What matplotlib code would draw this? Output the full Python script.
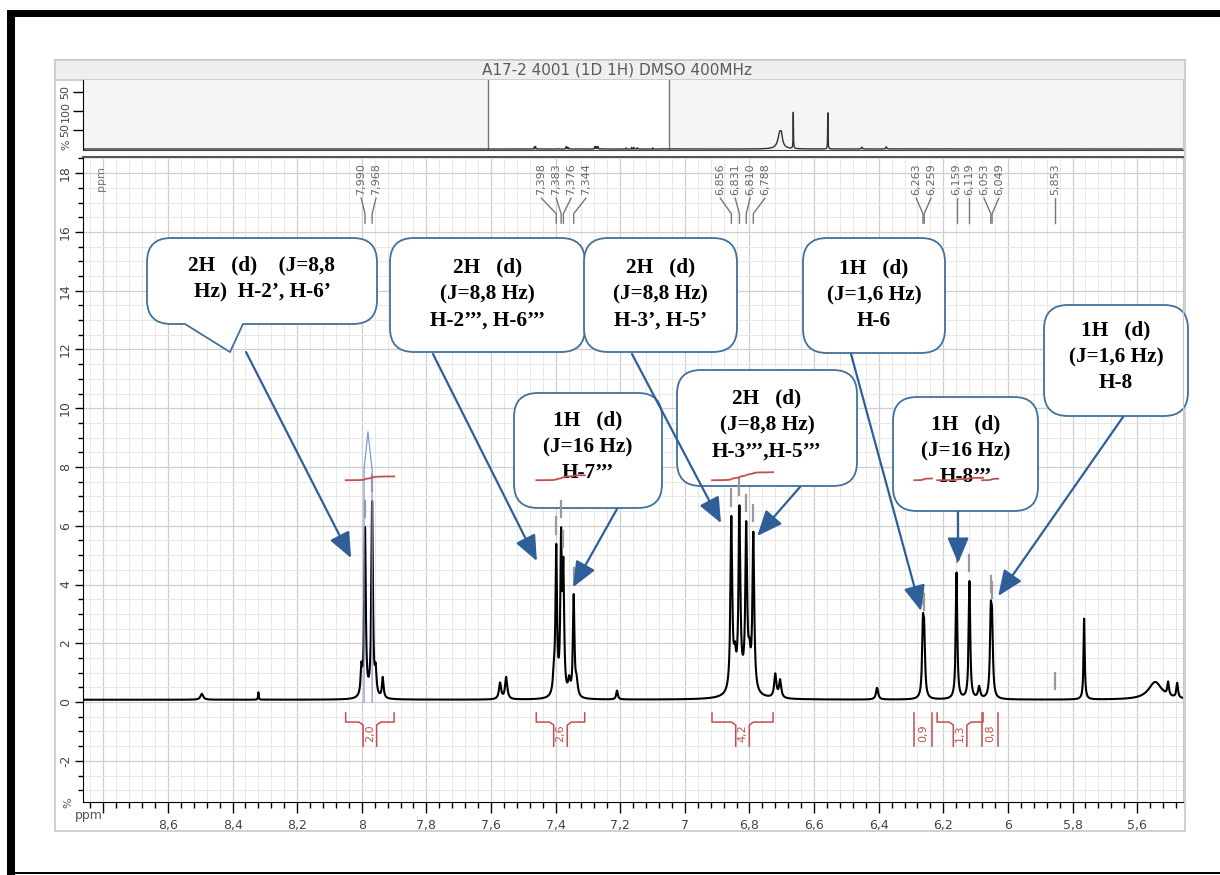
import numpy as np
import matplotlib
matplotlib.use('Agg')
import matplotlib.pyplot as plt
import matplotlib.transforms as mtransforms
from matplotlib.patches import Rectangle, PathPatch
from matplotlib.path import Path
from matplotlib.ticker import MultipleLocator, FuncFormatter

# 1H peaks: position (ppm), height (%), half width (ppm)
peak_ppm = [8.495, 8.320, 8.001, 7.990, 7.968, 7.957, 7.935, 7.572, 7.553,
            7.405, 7.398, 7.383, 7.376, 7.358, 7.344, 7.335, 7.210,
            6.856, 6.845, 6.831, 6.822, 6.810, 6.800, 6.788, 6.720, 6.705, 6.405,
            6.263, 6.259, 6.159, 6.119, 6.089, 6.053, 6.049, 5.764, 5.544, 5.504, 5.476]
peak_height = [0.20, 0.25, 0.90, 5.70, 6.60, 0.80, 0.70, 0.55, 0.75,
               0.60, 4.90, 5.10, 4.00, 0.50, 3.40, 0.50, 0.30,
               5.85, 0.90, 5.95, 0.35, 5.35, 0.90, 5.30, 0.80, 0.60, 0.40,
               2.20, 1.90, 4.30, 4.00, 0.40, 2.50, 2.20, 2.75, 0.60, 0.45, 0.50]
peak_width = [0.005, 0.0012, 0.003, 0.0028, 0.0028, 0.003, 0.003, 0.004, 0.004,
              0.004, 0.0028, 0.0028, 0.0028, 0.004, 0.0028, 0.004, 0.003,
              0.0033, 0.004, 0.0033, 0.03, 0.0033, 0.004, 0.0033, 0.004, 0.004, 0.004,
              0.003, 0.003, 0.0028, 0.0028, 0.004, 0.003, 0.003, 0.0022, 0.025, 0.003, 0.003]
baseline = 0.08

# solvent / other peaks only seen in the overview strip
solvent_ppm = [3.37, 3.34, 3.12, 2.47, 1.83, 1.37]
solvent_height = [45.0, 15.0, 95.0, 95.0, 5.0, 6.0]
solvent_width = [0.045, 0.015, 0.004, 0.004, 0.01, 0.01]

# picked peaks (top labels) and their groups
label_ppm = [7.990, 7.968, 7.398, 7.383, 7.376, 7.344, 6.856, 6.831, 6.810, 6.788,
             6.263, 6.259, 6.159, 6.119, 6.053, 6.049, 5.853]
label_group = [0, 0, 1, 1, 1, 1, 2, 2, 2, 2, 3, 3, 4, 5, 6, 6, 7]

# integrals: left ppm, right ppm, value
integ_left = [8.05, 7.46, 6.916, 6.29, 6.219, 6.08]
integ_right = [7.90, 7.31, 6.727, 6.235, 6.077, 6.03]
integ_value = ['2,0', '2,6', '4,2', '0,9', '1,3', '0,8']

# multiplet envelope drawn over the 7.98 doublet
env_ppm = [7.993, 7.993, 7.981, 7.968, 7.968]
env_val = [0.0, 7.9, 9.2, 7.9, 0.0]

# callouts: text, arrow target (ppm, %)
callout_text = ['2H   (d)    (J=8,8\nHz)  H-2\u2019, H-6\u2019',
                '2H   (d)\n(J=8,8 Hz)\nH-2\u2019\u2019\u2019, H-6\u2019\u2019\u2019',
                '2H   (d)\n(J=8,8 Hz)\nH-3\u2019, H-5\u2019',
                '1H   (d)\n(J=1,6 Hz)\nH-6',
                '1H   (d)\n(J=1,6 Hz)\nH-8',
                '1H   (d)\n(J=16 Hz)\nH-7\u2019\u2019\u2019',
                '2H   (d)\n(J=8,8 Hz)\nH-3\u2019\u2019\u2019,H-5\u2019\u2019\u2019',
                '1H   (d)\n(J=16 Hz)\nH-8\u2019\u2019\u2019']
target_ppm = [8.033, 7.458, 6.888, 6.269, 6.030, 7.346, 6.776, 6.154]
target_val = [4.90, 4.80, 6.09, 3.10, 3.61, 3.91, 5.65, 4.73]

title = 'A17-2 4001 (1D 1H) DMSO 400MHz'


def lorentz(x, pos, hgt, wid):
    y = np.zeros_like(x)
    for p, h, w in zip(pos, hgt, wid):
        y += h / (1 + ((x - p) / w) ** 2)
    return y


def bubble(x0, y0, x1, y1, r, tail=None):
    v = [(x0 + r, y0), (x1 - r, y0), (x1, y0), (x1, y0 + r), (x1, y1 - r), (x1, y1), (x1 - r, y1)]
    c = [Path.MOVETO, Path.LINETO, Path.CURVE3, Path.CURVE3, Path.LINETO, Path.CURVE3, Path.CURVE3]
    if tail:
        v += [(tail[2], y1), (tail[1][0], tail[1][1]), (tail[0], y1)]
        c += [Path.LINETO] * 3
    v += [(x0 + r, y1), (x0, y1), (x0, y1 - r), (x0, y0 + r), (x0, y0), (x0 + r, y0), (x0 + r, y0)]
    c += [Path.LINETO, Path.CURVE3, Path.CURVE3, Path.LINETO, Path.CURVE3, Path.CURVE3, Path.CLOSEPOLY]
    return Path(v, c)


W, H = 1220, 875
fig = plt.figure(figsize=(W / 100, H / 100), dpi=100)
pix = mtransforms.Affine2D().scale(1 / W, -1 / H).translate(0, 1) + fig.transFigure


def fbox(x0, y0, x1, y1):
    return [x0 / W, 1 - y1 / H, (x1 - x0) / W, (y1 - y0) / H]


# background: black frame, grey panel, title bar
bg = fig.add_axes([0, 0, 1, 1], zorder=-5)
bg.set_xlim(0, W)
bg.set_ylim(H, 0)
bg.axis('off')
bg.add_patch(Rectangle((55, 60), 1130, 771, fc='white', ec='#c8c8c8', lw=1.2))
bg.add_patch(Rectangle((55, 60), 1130, 20, fc='#efefef', ec='#c8c8c8', lw=1.2))
bg.text(617, 70, title, ha='center', va='center', fontsize=11, color='#5a5a5a')
bg.add_patch(Rectangle((7, 10), 1213, 7, fc='black', ec='none'))
bg.add_patch(Rectangle((7, 10), 8, 865, fc='black', ec='none'))
bg.add_patch(Rectangle((7, 872), 1213, 2, fc='black', ec='none'))
bg.text(89, 815, 'ppm', ha='center', va='center', fontsize=9, color='#555555')
bg.text(68, 803, '%', ha='center', va='center', fontsize=8, color='#555555', rotation=90)
bg.text(66, 145, '%', ha='center', va='center', fontsize=8, color='#555555', rotation=90)

# overview strip
xo = np.arange(-4.3, 16.6, 0.0005)
so = lorentz(xo, peak_ppm, peak_height, peak_width) + lorentz(xo, solvent_ppm, solvent_height, solvent_width)
ov = fig.add_axes(fbox(83, 80, 1183, 150))
ov.set_facecolor('#f5f5f5')
ov.axvspan(8.863, 5.458, color='white', zorder=0)
ov.axvline(8.863, color='#777777', lw=1)
ov.axvline(5.458, color='#777777', lw=1)
ov.plot(xo, so, color='#333333', lw=1)
ov.set_xlim(16.48, -4.21)
ov.set_ylim(-2.6, 181.6)
ov.set_xticks([])
ov.set_yticks([50, 100, 150])
ov.set_yticklabels(['50', '100', '50'], rotation=90, fontsize=8, color='#444444', va='center')
ov.tick_params(axis='y', length=7, width=1, pad=2)
ov.spines['top'].set_visible(False)
ov.spines['right'].set_color('#c8c8c8')
ov.spines['bottom'].set_color('#444444')

# main spectrum
x = np.arange(5.40, 8.90, 0.0002)
spec = baseline + lorentz(x, peak_ppm, peak_height, peak_width)

ax = fig.add_axes(fbox(83, 157, 1183, 802))
ax.set_xlim(8.863, 5.458)
ax.set_ylim(-3.4, 18.55)
ax.xaxis.set_major_locator(MultipleLocator(0.2))
ax.xaxis.set_minor_locator(MultipleLocator(0.04))
ax.yaxis.set_major_locator(MultipleLocator(2))
ax.yaxis.set_minor_locator(MultipleLocator(0.5))
ax.xaxis.set_major_formatter(FuncFormatter(
    lambda v, _: '' if v > 8.7 else f'{v:.1f}'.rstrip('0').rstrip('.').replace('.', ',')))
ax.yaxis.set_major_formatter(FuncFormatter(lambda v, _: f'{int(round(v))}'))
ax.set_axisbelow(True)
ax.grid(which='major', color='#cfcfcf', lw=0.9)
ax.grid(which='minor', color='#e8e8e8', lw=0.7)
ax.tick_params(axis='x', which='major', direction='out', length=8, width=1, pad=4,
               labelsize=9, labelcolor='#444444')
ax.tick_params(axis='x', which='minor', direction='out', length=4.3, width=1)
ax.tick_params(axis='y', which='major', length=6, width=1, pad=2, labelrotation=90,
               labelsize=9, labelcolor='#444444')
ax.tick_params(axis='y', which='minor', length=3.6, width=1)
for lab in ax.get_yticklabels():
    lab.set_va('center')
ax.spines['top'].set_color('#555555')
ax.spines['top'].set_linewidth(1.5)
ax.spines['right'].set_color('#c8c8c8')
ax.text(101, 179, 'ppm', transform=pix, rotation=90, ha='center', va='center',
        fontsize=8, color='#777777')

# callout boxes
boxes = [(147, 238, 377, 324), (390, 238, 585, 352), (584, 238, 737, 352), (803, 238, 945, 353),
         (1044, 305, 1188, 416), (514, 393, 662, 508), (677, 370, 857, 486), (893, 397, 1038, 511)]
starts = [(246, 352), (433, 354), (632, 354), (851, 354), (1123, 417), (617, 509), (800, 487), (958, 512)]
text_y = [279, 294, 294, 295, 357, 447, 425, 451]
for i, (x0, y0, x1, y1) in enumerate(boxes):
    tail = (185, (230, 352), 243) if i == 0 else None
    ax.add_patch(PathPatch(bubble(x0, y0, x1, y1, 24, tail), transform=pix, fc='white',
                           ec='#41719c', lw=1.3, zorder=2, clip_on=False))
    ax.text((x0 + x1) / 2, text_y[i], callout_text[i], transform=pix, ha='center', va='center',
            fontsize=15.3, fontweight='bold', family='Liberation Serif', linespacing=1.42,
            zorder=3, clip_on=False)
    ax.annotate('', xy=(target_ppm[i], target_val[i]), xycoords='data',
                xytext=starts[i], textcoords=pix, annotation_clip=False, zorder=6,
                arrowprops=dict(arrowstyle='-|>,head_length=0.78,head_width=0.33',
                                mutation_scale=20, color='#2f5f98', lw=1.6,
                                shrinkA=0, shrinkB=0))

ax.plot(x, spec, color='black', lw=1.5, zorder=4)
ax.plot(env_ppm, env_val, color='#7f9ccc', lw=0.9, zorder=4.5)

# picked-peak markers and labels
red = '#c0504d'
for g in sorted(set(label_group)):
    ps = [p for p, k in zip(label_ppm, label_group) if k == g]
    mid = np.mean(ps)
    n = len(ps)
    for j, p in enumerate(ps):
        lx = mid + ((n - 1) / 2 - j) * 0.046
        v = np.interp(p, x, spec)
        ax.plot([p, p], [v + 0.35, v + 0.9], color='#9a9a9a', lw=1.6, zorder=4)
        ax.plot([lx, p, p], [17.15, 16.62, 16.3], color='#777777', lw=1, zorder=3)
        ax.text(lx, 17.25, f'{p:.3f}'.replace('.', ','), rotation=90, ha='center', va='bottom',
                fontsize=8, color='#666666', zorder=3)

# integrals and brackets
for a, b, val in zip(integ_left, integ_right, integ_value):
    m = (x <= a) & (x >= b)
    xs = x[m][::-1]
    cs = np.cumsum(spec[m][::-1] - baseline)
    rise = cs / cs[-1] * float(val.replace(',', '.')) * 0.065
    ax.plot(xs, 7.55 + rise, color=red, lw=1.3, zorder=5)
    xc = (a + b) / 2
    if (a - b) * 323 > 25:
        d = 0.021
        ax.plot([a, a, xc + 0.034, xc + d, xc + d], [-0.37, -0.68, -0.68, -0.78, -1.5],
                color=red, lw=1.1, zorder=4)
        ax.plot([b, b, xc - 0.034, xc - d, xc - d], [-0.37, -0.68, -0.68, -0.78, -1.5],
                color=red, lw=1.1, zorder=4)
    else:
        ax.plot([a, a], [-0.37, -1.5], color=red, lw=1.1, zorder=4)
        ax.plot([b, b], [-0.37, -1.5], color=red, lw=1.1, zorder=4)
    ax.text(xc, -1.05, val, rotation=90, ha='center', va='center', fontsize=8, color=red, zorder=4)

fig.savefig('out.png', dpi=100)
